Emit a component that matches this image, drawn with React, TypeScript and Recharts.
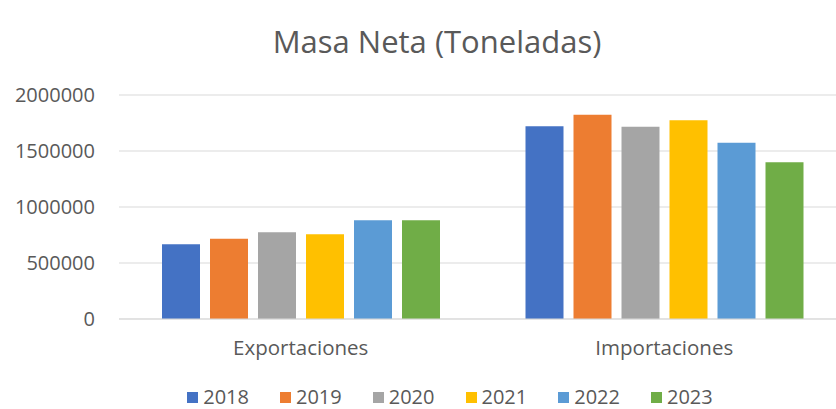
import { BarChart, Bar, XAxis, YAxis, CartesianGrid } from "recharts";

// Masa neta por año, en toneladas
const categories = ["Exportaciones", "Importaciones"];
const years = ["2018", "2019", "2020", "2021", "2022", "2023"];
const colors = ["#4472C4", "#ED7D31", "#A5A5A5", "#FFC000", "#5B9BD5", "#70AD47"];

const values2018 = [667000, 1720000];
const values2019 = [717000, 1824000];
const values2020 = [774000, 1717000];
const values2021 = [756000, 1774000];
const values2022 = [881000, 1574000];
const values2023 = [881000, 1399000];

const yTicks = [0, 500000, 1000000, 1500000, 2000000];

const seriesValues = [values2018, values2019, values2020, values2021, values2022, values2023];

const data = categories.map((name, i) => {
  const row: Record<string, string | number> = { name };
  years.forEach((y, j) => {
    row[y] = seriesValues[j][i];
  });
  return row;
});

const FONT = "'Open Sans', 'Noto Sans', sans-serif";
const TEXT = "#595959";

export default function App() {
  return (
    <div
      style={{
        position: "absolute",
        left: 0,
        top: 0,
        width: 836,
        height: 409,
        overflow: "hidden",
        background: "#fff",
        fontFamily: FONT,
      }}
    >
      <div
        style={{
          position: "absolute",
          left: 0,
          width: 874,
          top: 19,
          textAlign: "center",
          fontSize: 31,
          color: TEXT,
          lineHeight: "44px",
        }}
      >
        Masa Neta (Toneladas)
      </div>

      <BarChart
        width={850}
        height={409}
        data={data}
        margin={{ top: 95, right: 4, bottom: 50, left: 0 }}
        barSize={38}
        barGap={10}
      >
        <CartesianGrid vertical={false} stroke="#d9d9d9" strokeWidth={1} />
        <XAxis
          dataKey="name"
          height={40}
          axisLine={{ stroke: "#d9d9d9" }}
          tickLine={false}
          tickSize={6}
          tickMargin={15}
          tick={{ fill: TEXT, fontSize: 20.5, fontFamily: FONT }}
        />
        <YAxis
          width={119}
          domain={[0, 2000000]}
          ticks={yTicks}
          axisLine={false}
          tickLine={false}
          tickSize={6}
          tickMargin={18}
          tick={{ fill: TEXT, fontSize: 20, fontFamily: FONT }}
        />
        {years.map((y, i) => (
          <Bar key={y} dataKey={y} fill={colors[i]} isAnimationActive={false} />
        ))}
      </BarChart>

      <div
        style={{
          position: "absolute",
          left: 0,
          width: 900,
          top: 386,
          display: "flex",
          justifyContent: "center",
          gap: 31,
          fontSize: 20,
          color: TEXT,
          lineHeight: "22px",
        }}
      >
        {years.map((y, i) => (
          <span key={y} style={{ display: "flex", alignItems: "center" }}>
            <span
              style={{
                display: "inline-block",
                width: 11,
                height: 11,
                background: colors[i],
                marginRight: 5,
              }}
            />
            {y}
          </span>
        ))}
      </div>
    </div>
  );
}
